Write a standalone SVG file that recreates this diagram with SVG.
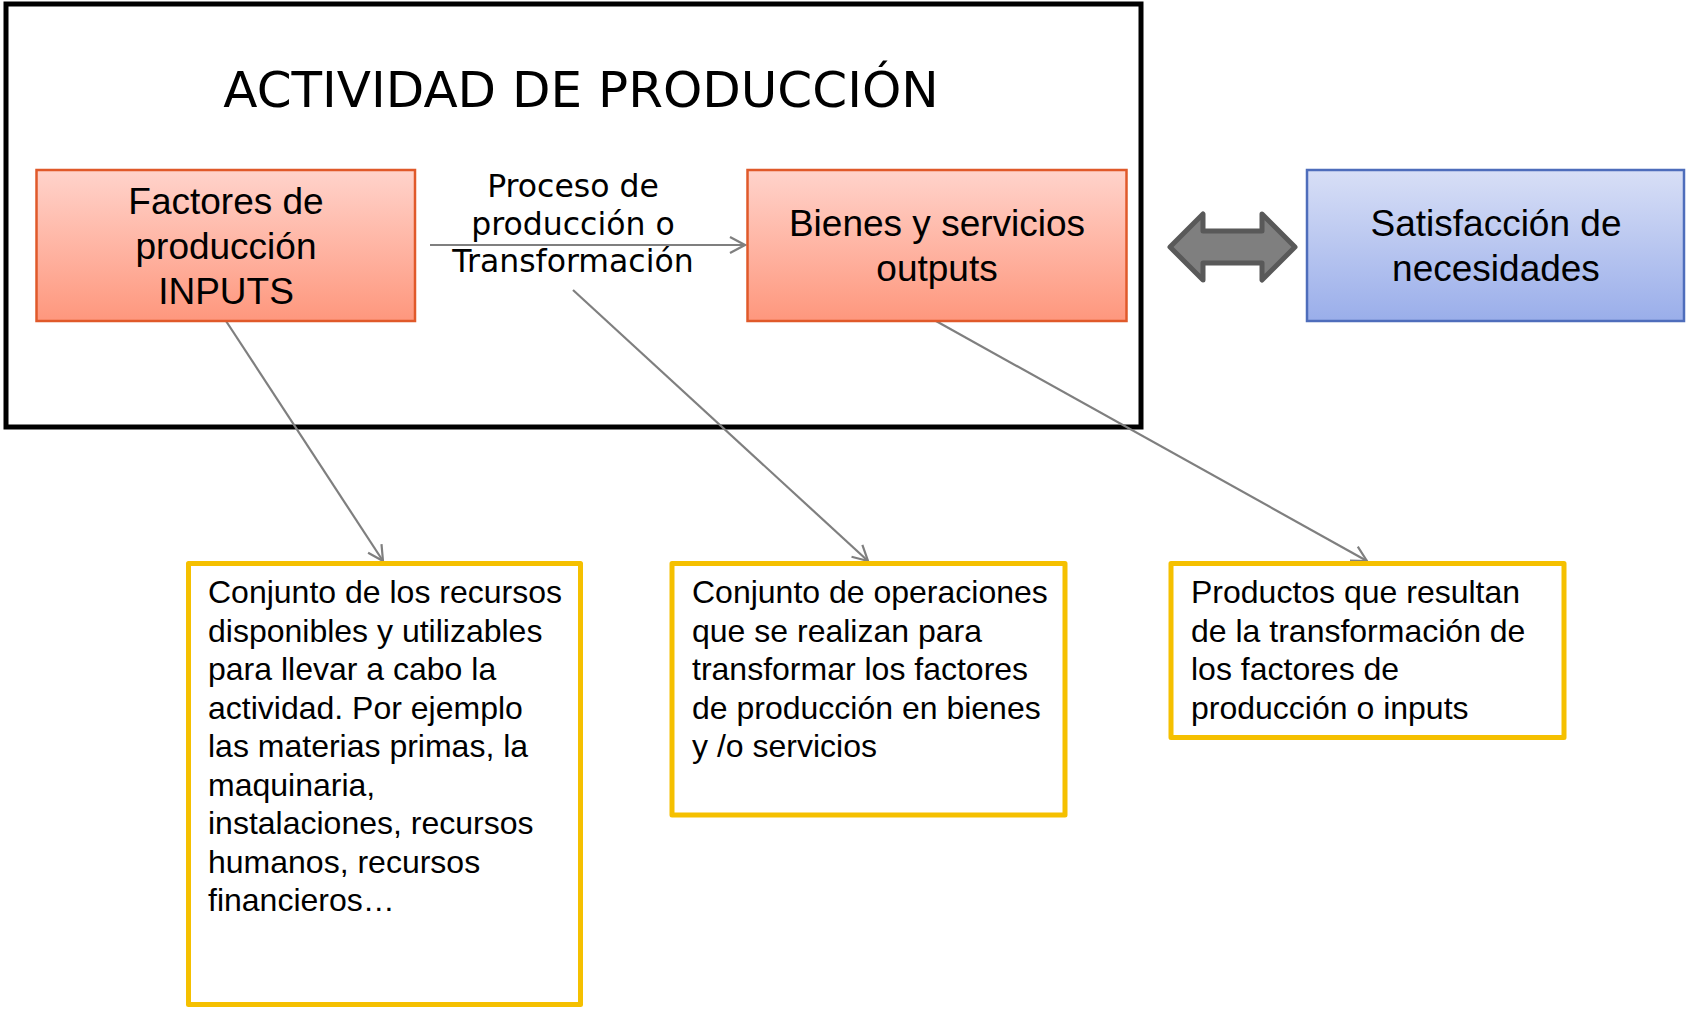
<svg xmlns="http://www.w3.org/2000/svg" width="1686" height="1009" viewBox="0 0 1686 1009">
<style>
.lbl{font-family:"Liberation Sans",Arial,sans-serif;font-size:37px;fill:#000;text-anchor:middle}
.vd{font-family:"DejaVu Sans",Verdana,sans-serif;fill:#000;text-anchor:middle}
.note{font-family:"Liberation Sans",Arial,sans-serif;font-size:32px;fill:#000}
.red{fill:url(#gRed);stroke:#E0592A;stroke-width:2.5}
.blue{fill:url(#gBlue);stroke:#4E6DBB;stroke-width:2.5}
.yel{fill:#fff;stroke:#F5C000;stroke-width:5;stroke-linejoin:round}
.con{fill:none;stroke:#7F7F7F;stroke-width:2.2}
</style>
<defs>
<linearGradient id="gRed" x1="0" y1="0" x2="0" y2="1">
<stop offset="0" stop-color="#FFD3CB"/>
<stop offset="1" stop-color="#FE977D"/>
</linearGradient>
<linearGradient id="gBlue" x1="0" y1="0" x2="0" y2="1">
<stop offset="0" stop-color="#D8DFF6"/>
<stop offset="1" stop-color="#9AAEEA"/>
</linearGradient>
<marker id="arr" markerUnits="userSpaceOnUse" markerWidth="20" markerHeight="20" viewBox="0 0 20 20" refX="18" refY="10" orient="auto">
<path d="M3,2 L18,10 L3,18" fill="none" stroke="#7F7F7F" stroke-width="2.2"/>
</marker>
</defs>
<rect width="1686" height="1009" fill="#fff"/>
<g id="actividad">
<rect x="6" y="4" width="1135" height="423" fill="none" stroke="#000" stroke-width="5"/>
<text class="vd" x="581" y="107" font-size="50">ACTIVIDAD DE PRODUCCIÓN</text>
</g>
<g id="connectors">
<line class="con" x1="430" y1="245" x2="745" y2="245" marker-end="url(#arr)"/>
<line class="con" x1="226" y1="321" x2="383" y2="561" marker-end="url(#arr)"/>
<line class="con" x1="573" y1="290" x2="868" y2="561" marker-end="url(#arr)"/>
<line class="con" x1="936" y1="321" x2="1367" y2="561" marker-end="url(#arr)"/>
<path id="doble" d="M1170,247 L1203,214 L1203,231 L1262,231 L1262,214 L1295,247 L1262,280 L1262,263 L1203,263 L1203,280 Z" fill="#7F7F7F" stroke="#595959" stroke-width="5" stroke-linejoin="round"/>
</g>
<g id="factores">
<rect class="red" x="36.5" y="170" width="378.5" height="151"/>
<text class="lbl" x="226" y="214">Factores de</text>
<text class="lbl" x="226" y="259">producción</text>
<text class="lbl" x="226" y="304">INPUTS</text>
</g>
<g id="proceso">
<text class="vd" font-size="31.5" x="573" y="197">Proceso de</text>
<text class="vd" font-size="31.5" x="573" y="234.5">producción o</text>
<text class="vd" font-size="31.5" x="573" y="272">Transformación</text>
</g>
<g id="bienes">
<rect class="red" x="747.5" y="170" width="379" height="151"/>
<text class="lbl" x="937" y="236">Bienes y servicios</text>
<text class="lbl" x="937" y="281">outputs</text>
</g>
<g id="satisfaccion">
<rect class="blue" x="1307" y="170" width="377" height="151"/>
<text class="lbl" x="1496" y="236">Satisfacción de</text>
<text class="lbl" x="1496" y="281">necesidades</text>
</g>
<g id="nota1">
<rect class="yel" x="188.5" y="563.5" width="392" height="441"/>
<text class="note" x="208" y="603">Conjunto de los recursos</text>
<text class="note" x="208" y="641.5">disponibles y utilizables</text>
<text class="note" x="208" y="680">para llevar a cabo la</text>
<text class="note" x="208" y="718.5">actividad. Por ejemplo</text>
<text class="note" x="208" y="757">las materias primas, la</text>
<text class="note" x="208" y="795.5">maquinaria,</text>
<text class="note" x="208" y="834">instalaciones, recursos</text>
<text class="note" x="208" y="872.5">humanos, recursos</text>
<text class="note" x="208" y="911">financieros…</text>
</g>
<g id="nota2">
<rect class="yel" x="672" y="563.5" width="393" height="251.5"/>
<text class="note" x="692" y="603">Conjunto de operaciones</text>
<text class="note" x="692" y="641.5">que se realizan para</text>
<text class="note" x="692" y="680">transformar los factores</text>
<text class="note" x="692" y="718.5">de producción en bienes</text>
<text class="note" x="692" y="757">y /o servicios</text>
</g>
<g id="nota3">
<rect class="yel" x="1171" y="563.5" width="393" height="174"/>
<text class="note" x="1191" y="603">Productos que resultan</text>
<text class="note" x="1191" y="641.5">de la transformación de</text>
<text class="note" x="1191" y="680">los factores de</text>
<text class="note" x="1191" y="718.5">producción o inputs</text>
</g>
</svg>
